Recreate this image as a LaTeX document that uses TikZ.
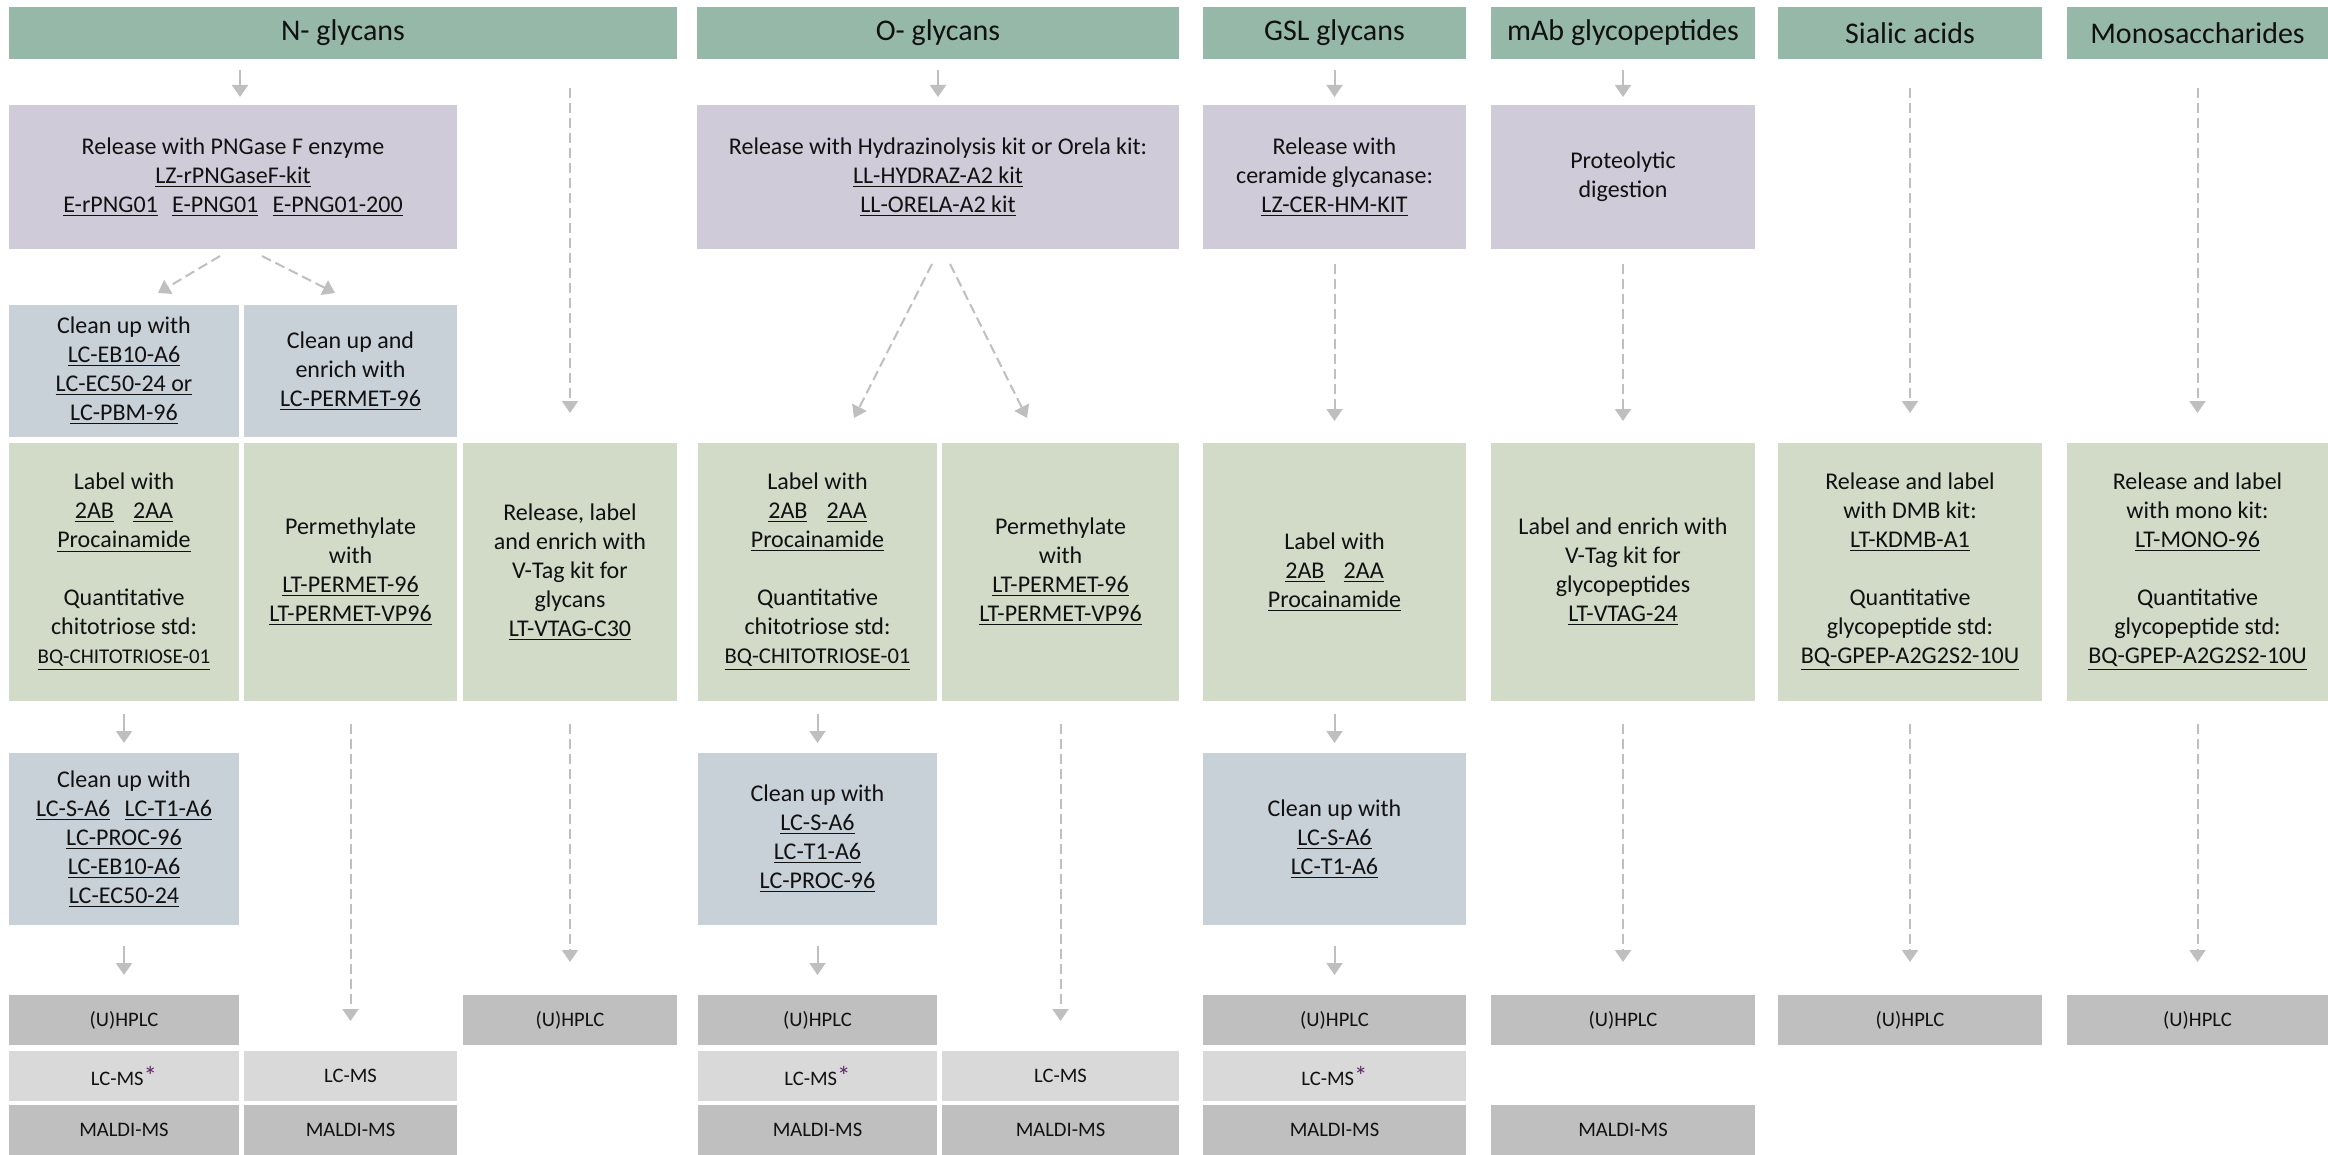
\documentclass[tikz,border=0pt]{standalone}
\usepackage{fontspec}
\setmainfont{Carlito}
\usetikzlibrary{arrows.meta}
\definecolor{hdr}{HTML}{95B8A8}
\definecolor{rel}{HTML}{D0CBD9}
\definecolor{cln}{HTML}{C8D0D8}
\definecolor{grn}{HTML}{D1DBC8}
\definecolor{darkg}{HTML}{BFBFBF}
\definecolor{lightg}{HTML}{D9D9D9}
\definecolor{arrc}{HTML}{BFBFBF}
\definecolor{ast}{HTML}{62246C}
\definecolor{txt}{HTML}{111111}
\newcommand\gbox[7]{\node[bx,#6,minimum width={(#3-#2)*0.5pt},minimum height={(#5-#4)*0.5pt}] (#1) at ({(#2+#3)/2},{(#4+#5)/2}) {#7};}
\newcommand\ul[1]{\underline{#1}}
\newcommand\lcast{LC-MS{\color{ast}\raisebox{0.05ex}{\fontsize{13.5}{14}\selectfont *}}}
\begin{document}
\begin{tikzpicture}[x=0.5pt,y=-0.5pt,
  bx/.style={inner sep=0pt,outer sep=0pt,align=center,text=txt,font=\fontsize{12}{14.5}\selectfont},
  hdrbox/.style={fill=hdr,font=\fontsize{15}{18}\selectfont},
  relbox/.style={fill=rel},
  clnbox/.style={fill=cln},
  grnbox/.style={fill=grn},
  anbox/.style={fill=darkg,font=\fontsize{10.3}{12}\selectfont},
  lcbox/.style={fill=lightg,font=\fontsize{10.3}{12}\selectfont},
  arr/.style={draw=arrc,line width=1pt,-{Triangle[width=8pt,length=6pt]}},
  darr/.style={arr,dash pattern=on 5pt off 2.5pt}]
\useasboundingbox (0,0) rectangle (2328,1155);
% headers
\gbox{hN}{9}{677}{7}{59}{hdrbox}{N- glycans}
\gbox{hO}{697}{1179}{7}{59}{hdrbox}{O- glycans}
\gbox{hG}{1203}{1466}{7}{59}{hdrbox}{GSL glycans}
\gbox{hM}{1491}{1755}{7}{59}{hdrbox}{mAb glycopeptides}
\gbox{hS}{1778}{2042}{7}{59}{hdrbox}{Sialic acids}
\gbox{hMo}{2067}{2328}{7}{59}{hdrbox}{Monosaccharides}
% release
\gbox{rN}{9}{457}{105}{249}{relbox}{Release with PNGase F enzyme\\\ul{LZ-rPNGaseF-kit}\\\ul{E-rPNG01}\hspace{0.6em}\ul{E-PNG01}\hspace{0.6em}\ul{E-PNG01-200}}
\gbox{rO}{697}{1179}{105}{249}{relbox}{Release with Hydrazinolysis kit or Orela kit:\\\ul{LL-HYDRAZ-A2 kit}\\\ul{LL-ORELA-A2 kit}}
\gbox{rG}{1203}{1466}{105}{249}{relbox}{Release with\\ceramide glycanase:\\\ul{LZ-CER-HM-KIT}}
\gbox{rM}{1491}{1755}{105}{249}{relbox}{Proteolytic\\digestion}
% cleanup 1
\gbox{cN1}{9}{239}{305}{437}{clnbox}{Clean up with\\\ul{LC-EB10-A6}\\\ul{LC-EC50-24 or}\\\ul{LC-PBM-96}}
\gbox{cN2}{244}{457}{305}{437}{clnbox}{Clean up and\\enrich with\\\ul{LC-PERMET-96}}
% green
\gbox{gN1}{9}{239}{443}{701}{grnbox}{Label with\\\ul{2AB}\hspace{0.8em}\ul{2AA}\\\ul{Procainamide}\\[14.5pt]Quantitative\\chitotriose std:\\{\fontsize{10.5}{12}\selectfont\ul{BQ-CHITOTRIOSE-01}}}
\gbox{gN2}{244}{457}{443}{701}{grnbox}{Permethylate\\with\\\ul{LT-PERMET-96}\\\ul{LT-PERMET-VP96}}
\gbox{gN3}{463}{677}{443}{701}{grnbox}{Release, label\\and enrich with\\V-Tag kit for\\glycans\\\ul{LT-VTAG-C30}}
\gbox{gO1}{698}{937}{443}{701}{grnbox}{Label with\\\ul{2AB}\hspace{0.8em}\ul{2AA}\\\ul{Procainamide}\\[14.5pt]Quantitative\\chitotriose std:\\{\fontsize{11.3}{12}\selectfont\ul{BQ-CHITOTRIOSE-01}}}
\gbox{gO2}{942}{1179}{443}{701}{grnbox}{Permethylate\\with\\\ul{LT-PERMET-96}\\\ul{LT-PERMET-VP96}}
\gbox{gG}{1203}{1466}{443}{701}{grnbox}{Label with\\\ul{2AB}\hspace{0.8em}\ul{2AA}\\\ul{Procainamide}}
\gbox{gM}{1491}{1755}{443}{701}{grnbox}{Label and enrich with\\V-Tag kit for\\glycopeptides\\\ul{LT-VTAG-24}}
\gbox{gS}{1778}{2042}{443}{701}{grnbox}{Release and label\\with DMB kit:\\\ul{LT-KDMB-A1}\\[14.5pt]Quantitative\\glycopeptide std:\\\ul{BQ-GPEP-A2G2S2-10U}}
\gbox{gMo}{2067}{2328}{443}{701}{grnbox}{Release and label\\with mono kit:\\\ul{LT-MONO-96}\\[14.5pt]Quantitative\\glycopeptide std:\\\ul{BQ-GPEP-A2G2S2-10U}}
% cleanup 2
\gbox{kN1}{9}{239}{753}{925}{clnbox}{Clean up with\\\ul{LC-S-A6}\hspace{0.6em}\ul{LC-T1-A6}\\\ul{LC-PROC-96}\\\ul{LC-EB10-A6}\\\ul{LC-EC50-24}}
\gbox{kO1}{698}{937}{753}{925}{clnbox}{Clean up with\\\ul{LC-S-A6}\\\ul{LC-T1-A6}\\\ul{LC-PROC-96}}
\gbox{kG}{1203}{1466}{753}{925}{clnbox}{Clean up with\\\ul{LC-S-A6}\\\ul{LC-T1-A6}}
% analysis: HPLC
\gbox{uN1}{9}{239}{995}{1045}{anbox}{(U)HPLC}
\gbox{uN3}{463}{677}{995}{1045}{anbox}{(U)HPLC}
\gbox{uO1}{698}{937}{995}{1045}{anbox}{(U)HPLC}
\gbox{uG}{1203}{1466}{995}{1045}{anbox}{(U)HPLC}
\gbox{uM}{1491}{1755}{995}{1045}{anbox}{(U)HPLC}
\gbox{uS}{1778}{2042}{995}{1045}{anbox}{(U)HPLC}
\gbox{uMo}{2067}{2328}{995}{1045}{anbox}{(U)HPLC}
% LC-MS
\gbox{lN1}{9}{239}{1051}{1101}{lcbox}{\lcast}
\gbox{lN2}{244}{457}{1051}{1101}{lcbox}{LC-MS}
\gbox{lO1}{698}{937}{1051}{1101}{lcbox}{\lcast}
\gbox{lO2}{942}{1179}{1051}{1101}{lcbox}{LC-MS}
\gbox{lG}{1203}{1466}{1051}{1101}{lcbox}{\lcast}
% MALDI
\gbox{mN1}{9}{239}{1105}{1155}{anbox}{MALDI-MS}
\gbox{mN2}{244}{457}{1105}{1155}{anbox}{MALDI-MS}
\gbox{mO1}{698}{937}{1105}{1155}{anbox}{MALDI-MS}
\gbox{mO2}{942}{1179}{1105}{1155}{anbox}{MALDI-MS}
\gbox{mG}{1203}{1466}{1105}{1155}{anbox}{MALDI-MS}
\gbox{mM}{1491}{1755}{1105}{1155}{anbox}{MALDI-MS}
% arrows header -> release
\draw[arr,shorten <=5.5pt,shorten >=4pt] ([xshift=3.5pt]hN.south -| rN.north) -- ([xshift=3.5pt]rN.north);
\draw[arr,shorten <=5.5pt,shorten >=4pt] (hO.south) -- (rO.north);
\draw[arr,shorten <=5.5pt,shorten >=4pt] (hG.south) -- (rG.north);
\draw[arr,shorten <=5.5pt,shorten >=4pt] (hM.south) -- (rM.north);
% diagonals
\draw[darr] ([xshift=-6.5pt,yshift=-3.5pt]rN.south) -- ([xshift=17pt,yshift=6pt]cN1.north);
\draw[darr] ([xshift=14.5pt,yshift=-3.5pt]rN.south) -- ([xshift=-7.75pt,yshift=6pt]cN2.north);
\draw[darr] ([xshift=-3pt,yshift=-7.5pt]rO.south) -- ([xshift=18.25pt,yshift=12.5pt]gO1.north);
\draw[darr] ([xshift=6pt,yshift=-7.5pt]rO.south) -- ([xshift=-16.75pt,yshift=12.5pt]gO2.north);
% long dashed from headers
\draw[darr,shorten <=14.5pt,shorten >=15pt] (hN.south -| gN3.north) -- (gN3.north);
\draw[darr,shorten <=14.5pt,shorten >=15pt] (hS.south) -- (gS.north);
\draw[darr,shorten <=14.5pt,shorten >=15pt] (hMo.south) -- (gMo.north);
% release -> green
\draw[darr,shorten <=7.5pt,shorten >=11pt] (rG.south) -- (gG.north);
\draw[darr,shorten <=7.5pt,shorten >=11pt] (rM.south) -- (gM.north);
% green -> cleanup 2
\draw[arr,shorten <=6.5pt,shorten >=5pt] (gN1.south) -- (kN1.north);
\draw[arr,shorten <=6.5pt,shorten >=5pt] (gO1.south) -- (kO1.north);
\draw[arr,shorten <=6.5pt,shorten >=5pt] (gG.south) -- (kG.north);
% cleanup 2 -> HPLC
\draw[arr,shorten <=10.5pt,shorten >=10pt] (kN1.south) -- (uN1.north);
\draw[arr,shorten <=10.5pt,shorten >=10pt] (kO1.south) -- (uO1.north);
\draw[arr,shorten <=10.5pt,shorten >=10pt] (kG.south) -- (uG.north);
% green -> analysis dashed
\draw[darr,shorten <=11.5pt,shorten >=15pt] (gN2.south) -- (lN2.north);
\draw[darr,shorten <=11.5pt,shorten >=15pt] (gO2.south) -- (lO2.north);
\draw[darr,shorten <=11.5pt,shorten >=16.5pt] (gN3.south) -- (uN3.north);
\draw[darr,shorten <=11.5pt,shorten >=16.5pt] (gM.south) -- (uM.north);
\draw[darr,shorten <=11.5pt,shorten >=16.5pt] (gS.south) -- (uS.north);
\draw[darr,shorten <=11.5pt,shorten >=16.5pt] (gMo.south) -- (uMo.north);
\end{tikzpicture}
\end{document}
